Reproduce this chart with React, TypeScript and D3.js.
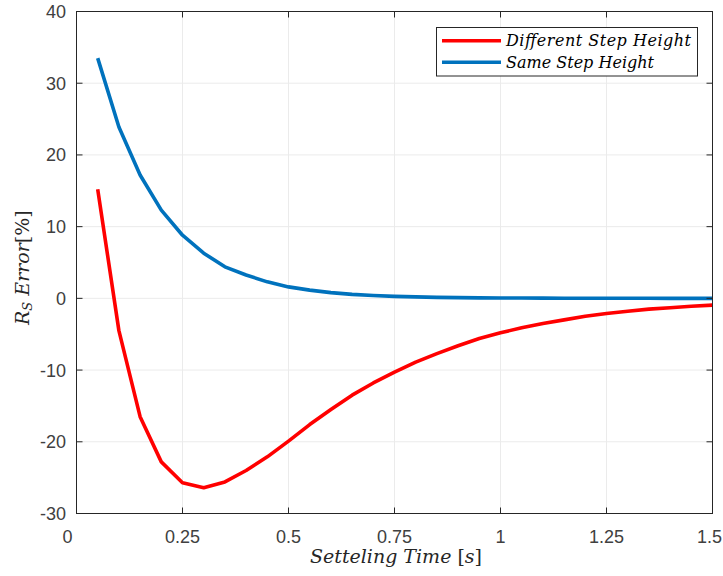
import React from "react";
import * as d3 from "d3";

const times = [0.05,0.1,0.15,0.2,0.25,0.3,0.35,0.4,0.45,0.5,0.55,0.6,0.65,0.7,0.75,0.8,0.85,0.9,0.95,1.0,1.05,1.1,1.15,1.2,1.25,1.3,1.35,1.4,1.45,1.5];
const differentStep = [15.2,-4.5,-16.5,-22.8,-25.7,-26.4,-25.6,-24.0,-22.1,-19.9,-17.6,-15.5,-13.5,-11.8,-10.3,-8.9,-7.7,-6.6,-5.6,-4.8,-4.1,-3.5,-3.0,-2.5,-2.1,-1.8,-1.5,-1.3,-1.1,-0.95];
const sameStep = [33.5,23.9,17.2,12.3,8.8,6.3,4.4,3.25,2.3,1.6,1.15,0.8,0.55,0.4,0.28,0.2,0.14,0.1,0.07,0.05,0.04,0.03,0.02,0.015,0.01,0.008,0.006,0.004,0.003,0.002];
const xTicks = [0,0.25,0.5,0.75,1,1.25,1.5];
const xTickLabels = ["0","0.25","0.5","0.75","1","1.25","1.5"];
const yTicks = [-30,-20,-10,0,10,20,30,40];
const seriesNames = ["Different Step Height","Same Step Height"];
const seriesColors = ["#ff0000","#0072bd"];

const W = 723, H = 576;
const left = 76.5, right = 712.5, top = 11.5, bottom = 513.5;

export default function App() {
  const x = d3.scaleLinear().domain([0, 1.5]).range([left, right]);
  const y = d3.scaleLinear().domain([-30, 40]).range([bottom, top]);
  const line = d3.line<number>().x((_, i) => x(times[i])).y(d => y(d));
  const series = [differentStep, sameStep];
  const axisColor = "#262626";
  const tickFont = "Liberation Sans, Arial, sans-serif";
  const serif = "DejaVu Serif, serif";
  const tl = 6;
  const n = xTicks.length;
  return (
    <svg width={W} height={H} style={{ position: "absolute", left: 0, top: 0, background: "#fff" }}>
      <rect x={0} y={0} width={W} height={H} fill="#fff" />
      {xTicks.map((t, i) => (
        <line key={"gx" + i} x1={x(t)} x2={x(t)} y1={top} y2={bottom} stroke="#ebebeb" strokeWidth={1} />
      ))}
      {yTicks.map((t, i) => (
        <line key={"gy" + i} x1={left} x2={right} y1={y(t)} y2={y(t)} stroke="#ebebeb" strokeWidth={1} />
      ))}
      {series.map((s, i) => (
        <path key={"s" + i} d={line(s) || ""} fill="none" stroke={seriesColors[i]} strokeWidth={3.6} strokeLinejoin="round" />
      ))}
      <rect x={left} y={top} width={right - left} height={bottom - top} fill="none" stroke={axisColor} strokeWidth={1} />
      {xTicks.map((t, i) => (
        <g key={"tx" + i}>
          <line x1={x(t)} x2={x(t)} y1={bottom} y2={bottom - tl} stroke={axisColor} />
          <line x1={x(t)} x2={x(t)} y1={top} y2={top + tl} stroke={axisColor} />
          <text x={i === n - 1 ? 722 : x(t) + (i === 0 ? -9 : 0)} y={542.5} textAnchor={i === n - 1 ? "end" : "middle"} fontFamily={tickFont} fontSize={18} fill="#404040">{xTickLabels[i]}</text>
        </g>
      ))}
      {yTicks.map((t, i) => (
        <g key={"ty" + i}>
          <line x1={left} x2={left + tl} y1={y(t)} y2={y(t)} stroke={axisColor} />
          <line x1={right} x2={right - tl} y1={y(t)} y2={y(t)} stroke={axisColor} />
          <text x={66} y={y(t) + 6.5} textAnchor="end" fontFamily={tickFont} fontSize={18} fill="#404040">{String(t)}</text>
        </g>
      ))}
      <text x={310} y={563} fontFamily={serif} fontSize={19} fill="#262626" textLength={172} lengthAdjust="spacing">
        <tspan fontStyle="italic">Setteling Time </tspan>
        <tspan>[</tspan>
        <tspan fontStyle="italic">s</tspan>
        <tspan>]</tspan>
      </text>
      <text transform={`translate(29, 325) rotate(-90)`} fontFamily={serif} fontSize={19} fill="#262626">
        <tspan fontStyle="italic">R</tspan>
        <tspan fontStyle="italic" fontSize={13} dy={3}>S</tspan>
        <tspan fontStyle="italic" dy={-3}>{"  Error"}</tspan>
        <tspan>[%]</tspan>
      </text>
      <rect x={436.5} y={27.5} width={261} height={48.5} fill="#fff" stroke={axisColor} strokeWidth={1} />
      {seriesNames.map((name, i) => (
        <g key={"lg" + i}>
          <line x1={442} x2={501} y1={40.7 + i * 21.6} y2={40.7 + i * 21.6} stroke={seriesColors[i]} strokeWidth={3.6} />
          <text x={506} y={46 + i * 21.6} fontFamily={serif} fontStyle="italic" fontSize={16} fill="#000" textLength={i === 0 ? 185 : 148} lengthAdjust="spacing">{name}</text>
        </g>
      ))}
    </svg>
  );
}
